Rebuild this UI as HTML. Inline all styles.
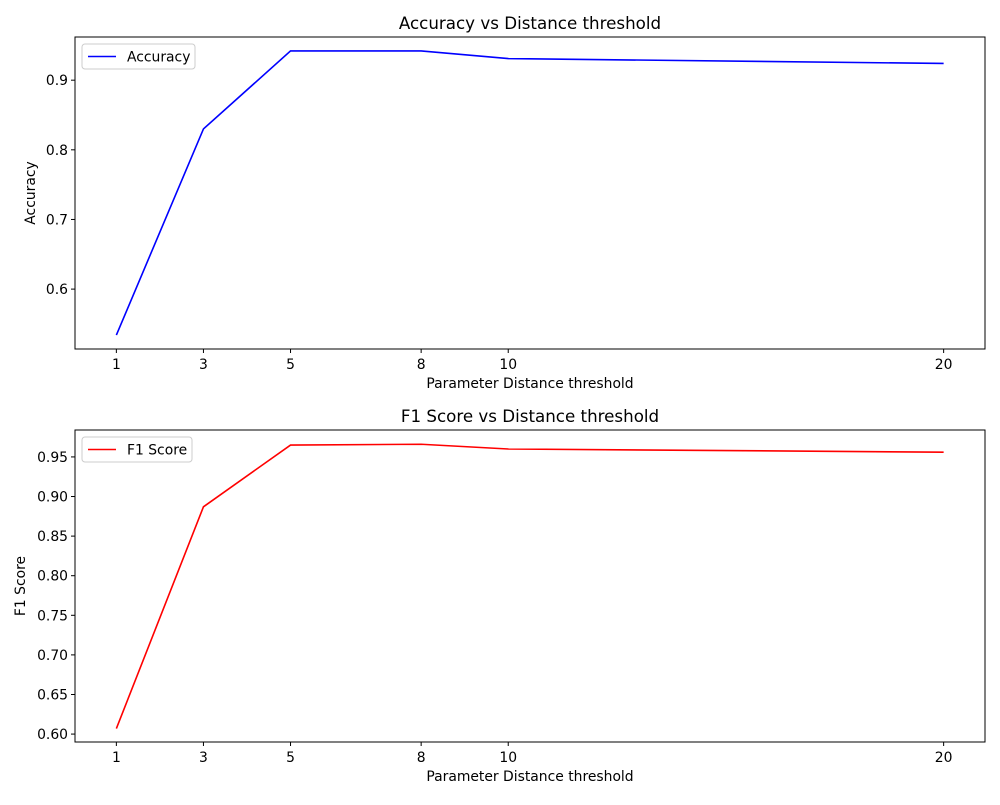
<!DOCTYPE html>
<html><head><meta charset="utf-8"><style>
body{margin:0;background:#fff;font-family:"Liberation Sans","DejaVu Sans",sans-serif;}
svg text{font-family:"DejaVu Sans","Liberation Sans",sans-serif;fill:#000;}
</style></head><body>
<svg id="c" width="1000" height="800" xmlns="http://www.w3.org/2000/svg"></svg>
<script>
const thresholds=[1,3,5,8,10,20];
const accuracy=[0.534,0.830,0.942,0.942,0.931,0.924];
const f1=[0.607,0.887,0.965,0.966,0.960,0.956];
const accTicks=[0.6,0.7,0.8,0.9];
const accTickLabels=["0.6","0.7","0.8","0.9"];
const f1Ticks=[0.60,0.65,0.70,0.75,0.80,0.85,0.90,0.95];
const f1TickLabels=["0.60","0.65","0.70","0.75","0.80","0.85","0.90","0.95"];
const svg=document.getElementById('c');
const NS='http://www.w3.org/2000/svg';
function el(t,a,p){const e=document.createElementNS(NS,t);for(const k in a)e.setAttribute(k,a[k]);(p||svg).appendChild(e);return e;}
function panel(o){
  const g=el('g',{});
  
  
  const L=75,R=985,T=o.top,B=o.bottom;
  const xs=v=>L+(v-0.05)/(20.9)*(R-L);
  const ys=v=>B-(v-o.ymin)/(o.ymax-o.ymin)*(B-T);
  const fr=el('rect',{x:L,y:T,width:R-L,height:B-T,fill:'none',stroke:'#000','stroke-width':1},g);
  
  thresholds.forEach(v=>{
    const x=xs(v);
    el('line',{x1:x,x2:x,y1:B,y2:B+4,stroke:'#000'},g);
    const t=el('text',{x:x,y:B+20,'text-anchor':'middle','font-size':13.9},g);t.textContent=v;
    
  });
  o.ticks.forEach((v,i)=>{
    const y=ys(v);
    el('line',{x1:L-4,x2:L,y1:y,y2:y,stroke:'#000'},g);
    const t=el('text',{x:L-7,y:y+5,'text-anchor':'end','font-size':13.9},g);t.textContent=o.labels[i];
    
  });
  const pts=thresholds.map((v,i)=>xs(v)+','+ys(o.data[i])).join(' ');
  const pl=el('polyline',{points:pts,fill:'none',stroke:o.color,'stroke-width':1.6},g);
  
  const ti=el('text',{x:(L+R)/2,y:T-8,'text-anchor':'middle','font-size':16.7},g);ti.textContent=o.title;
  
  const xl=el('text',{x:(L+R)/2,y:B+39,'text-anchor':'middle','font-size':13.9},g);xl.textContent='Parameter Distance threshold';
  
  const yl=el('text',{x:0,y:0,'text-anchor':'middle','font-size':13.9,transform:`translate(${o.ylx},${(T+B)/2}) rotate(-90)`},g);yl.textContent=o.ylabel;
  
  const lg=el('g',{},g);
  
  el('rect',{x:L+7,y:T+7,width:o.lw,height:25,rx:3,fill:'#fff',stroke:'#ccc'},lg);
  el('line',{x1:L+13,x2:L+41,y1:T+19.5,y2:T+19.5,stroke:o.color,'stroke-width':1.6},lg);
  const lt=el('text',{x:L+52,y:T+24.5,'font-size':13.9},lg);lt.textContent=o.ylabel;
  
}
panel({name:'accuracy-panel',series:'accuracy',top:37,bottom:349,ymin:0.514,ymax:0.962,ticks:accTicks,labels:accTickLabels,data:accuracy,color:'#0000ff',title:'Accuracy vs Distance threshold',ylabel:'Accuracy',ylx:35,lw:113});
panel({name:'f1-panel',series:'f1',top:430,bottom:742,ymin:0.590,ymax:0.984,ticks:f1Ticks,labels:f1TickLabels,data:f1,color:'#ff0000',title:'F1 Score vs Distance threshold',ylabel:'F1 Score',ylx:25,lw:110});
</script>
</body></html>
